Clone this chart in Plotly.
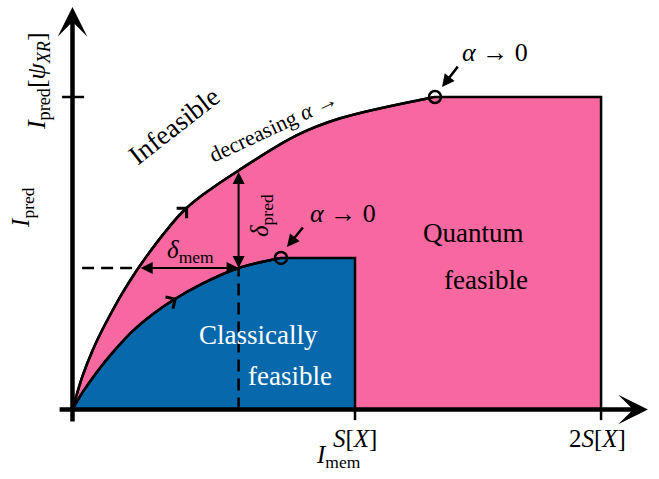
import plotly.graph_objects as go

# drawing units: x measured in S[X], y measured in I_pred[psi_XR]
outer_x = [0, 0.035, 0.071, 0.106, 0.142, 0.177, 0.212, 0.248, 0.319, 0.389, 0.460, 0.588, 0.793, 0.945, 1.283]
outer_y = [0, 0.106, 0.189, 0.256, 0.317, 0.373, 0.424, 0.472, 0.558, 0.632, 0.686, 0.765, 0.877, 0.931, 1.0]
inner_x = [0, 0.035, 0.088, 0.142, 0.212, 0.283, 0.354, 0.460, 0.588, 0.738]
inner_y = [0, 0.054, 0.122, 0.182, 0.250, 0.304, 0.349, 0.403, 0.453, 0.485]

q_right, q_top = 1.871, 1.0      # quantum region corner (2S[X], I_pred[psi_XR])
c_right, c_top = 1.0, 0.485      # classical region corner (S[X], plateau)
delta_x, delta_lo, delta_hi, delta_left = 0.588, 0.453, 0.765, 0.236

tick_vals = [1.0, 1.871]
tick_text = ["<i>S</i>[<i>X</i>]", "2<i>S</i>[<i>X</i>]"]

PINK = "#f768a1"
BLUE = "#0868ac"
FONT = "Liberation Serif"

fig = go.Figure()

# quantum feasible region
fig.add_trace(go.Scatter(x=outer_x, y=outer_y, mode="lines", fill="tozeroy", fillcolor=PINK,
                         line=dict(color="black", width=2.5, shape="spline")))
fig.add_trace(go.Scatter(x=[outer_x[-1] - 0.01, q_right, q_right, outer_x[-1] - 0.01],
                         y=[q_top, q_top, 0, 0], fill="toself", fillcolor=PINK,
                         mode="lines", line=dict(width=0)))
# classical feasible region
fig.add_trace(go.Scatter(x=inner_x, y=inner_y, mode="lines", fill="tozeroy", fillcolor=BLUE,
                         line=dict(color="black", width=2.5, shape="spline")))
fig.add_trace(go.Scatter(x=[inner_x[-1] - 0.01, c_right, c_right, inner_x[-1] - 0.01],
                         y=[c_top, c_top, 0, 0], fill="toself", fillcolor=BLUE,
                         mode="lines", line=dict(width=0)))
# outlines
fig.add_trace(go.Scatter(x=outer_x, y=outer_y, mode="lines",
                         line=dict(color="black", width=2.5, shape="spline")))
fig.add_trace(go.Scatter(x=inner_x, y=inner_y, mode="lines",
                         line=dict(color="black", width=2.5, shape="spline")))
fig.add_trace(go.Scatter(x=[outer_x[-1], q_right, q_right], y=[q_top, q_top, 0], mode="lines",
                         line=dict(color="black", width=2.5)))
fig.add_trace(go.Scatter(x=[inner_x[-1], c_right, c_right], y=[c_top, c_top, 0], mode="lines",
                         line=dict(color="black", width=2.5)))
# alpha -> 0 endpoints
fig.add_trace(go.Scatter(x=[inner_x[-1], outer_x[-1]], y=[inner_y[-1], outer_y[-1]], mode="markers",
                         marker=dict(symbol="circle-open", size=12, color="black",
                                     line=dict(width=2.5, color="black"))))

# dashed guides
fig.add_shape(type="line", x0=0.034, x1=delta_left, y0=delta_lo, y1=delta_lo, layer="above",
              line=dict(color="black", width=2.5, dash="12px,7px"))
fig.add_shape(type="line", x0=delta_x, x1=delta_x, y0=0, y1=delta_lo, layer="above",
              line=dict(color="black", width=2.5, dash="12px,7px"))
# ticks
fig.add_shape(type="line", x0=-0.037, x1=0.041, y0=q_top, y1=q_top, layer="above",
              line=dict(color="black", width=2.5))
for tv in tick_vals:
    fig.add_shape(type="line", x0=tv, x1=tv, y0=-0.034, y1=0, layer="above",
                  line=dict(color="black", width=2.5))


def arrow(x, y, ax, ay, width=2.0, head=2, size=1.0, side="end"):
    fig.add_annotation(x=x, y=y, ax=ax, ay=ay, xref="x", yref="y", axref="x", ayref="y",
                       text="", showarrow=True, arrowhead=head, arrowsize=size,
                       arrowwidth=width, arrowcolor="black", arrowside=side,
                       startarrowhead=head, startarrowsize=size)


# axes
arrow(2.037, 0, -0.051, 0, width=4.5, head=3, size=1.1)
arrow(0, 1.288, 0, -0.043, width=4.5, head=3, size=1.1)
# delta arrows
arrow(delta_x, delta_lo, delta_x, delta_hi, width=2, head=2, size=1.2, side="end+start")
arrow(delta_x, delta_lo, delta_left, delta_lo, width=2, head=2, size=1.2, side="end+start")
# alpha arrows
arrow(0.759, 0.520, 0.820, 0.587, width=2.5, head=2, size=1.0)
arrow(1.308, 1.032, 1.368, 1.102, width=2.5, head=2, size=1.0)
# direction marks on curves
arrow(0.409, 0.649, 0.374, 0.617, width=1.5, head=4, size=1.8)
arrow(0.370, 0.357, 0.335, 0.337, width=1.5, head=4, size=1.8)


def label(x, y, text, size, color="black", angle=0):
    fig.add_annotation(x=x, y=y, xref="x", yref="y", text=text, showarrow=False,
                       textangle=angle, font=dict(family=FONT, size=size, color=color))


label(tick_vals[0], -0.094, tick_text[0], 25)
label(tick_vals[1] - 0.014, -0.094, tick_text[1], 25)
label(0.940, -0.149, "<i>I</i><sub>mem</sub>", 25)
label(-0.122, 1.051, "<i>I</i><sub>pred</sub>[<i>ψ</i><sub><i>XR</i></sub>]", 26, angle=-90)
label(-0.179, 0.648, "<i>I</i><sub>pred</sub>", 25, angle=-90)
label(0.359, 0.907, "Infeasible", 27, angle=-38)
label(0.712, 0.905, "decreasing <i>α</i> →", 22, angle=-25)
label(0.416, 0.507, "<i>δ</i><sub>mem</sub>", 25)
label(0.667, 0.622, "<i>δ</i><sub>pred</sub>", 25, angle=-90)
label(0.957, 0.626, "<i>α</i> → 0", 26)
label(1.496, 1.144, "<i>α</i> → 0", 26)
label(1.418, 0.565, "Quantum", 27)
label(1.464, 0.414, "feasible", 27)
label(0.657, 0.238, "Classically", 27, color="white")
label(0.770, 0.107, "feasible", 27, color="white")

fig.update_layout(width=659, height=479, margin=dict(l=0, r=0, t=0, b=0),
                  plot_bgcolor="white", paper_bgcolor="white", showlegend=False,
                  xaxis=dict(range=[-0.2566, 2.0761], visible=False, fixedrange=True),
                  yaxis=dict(range=[-0.2224, 1.3104], visible=False, fixedrange=True))

fig.write_html("out.html", config={"displayModeBar": False},
               post_script="document.body.style.margin='0px';")
